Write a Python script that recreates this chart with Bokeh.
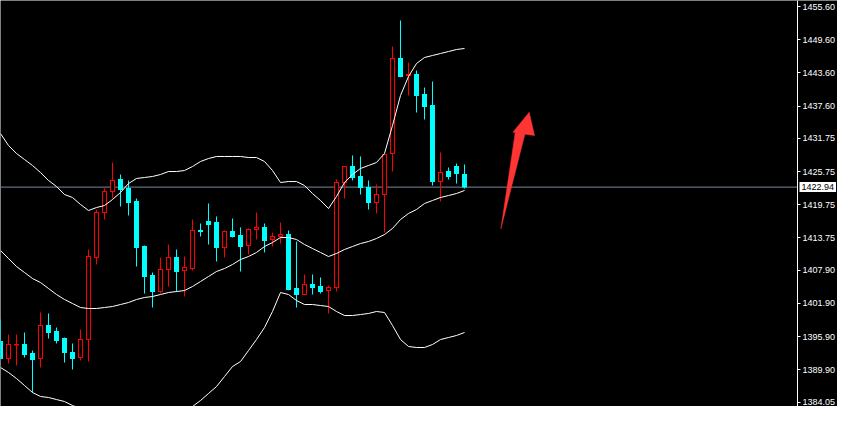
from bokeh.plotting import figure
from bokeh.models import Range1d, FixedTicker, Label, ColumnDataSource, PrintfTickFormatter, LinearAxis
from bokeh.embed import file_html
from bokeh.resources import INLINE

# ---- data ----
opens = [1395.02, 1391.95, 1394.40, 1394.48, 1392.85, 1391.95, 1397.92, 1396.83, 1395.56, 1393.03,
         1392.13, 1395.38, 1410.21, 1418.35, 1422.15, 1424.32, 1422.69, 1420.34, 1412.20, 1406.96,
         1404.06, 1408.04, 1410.21, 1407.86, 1408.22, 1415.09, 1416.72, 1416.54, 1412.02, 1414.91,
         1414.19, 1412.38, 1415.27, 1415.64, 1413.47, 1414.01, 1414.37, 1404.61, 1403.52, 1405.33,
         1404.97, 1404.24, 1404.79, 1423.77, 1426.67, 1424.86, 1422.87, 1420.16, 1421.60, 1429.02,
         1446.20, 1443.12, 1443.30, 1439.69, 1437.70, 1423.95, 1425.76, 1426.67, 1425.22]
highs = [1399.00, 1396.29, 1396.29, 1396.65, 1393.39, 1400.27, 1400.09, 1397.55, 1395.74, 1394.66,
         1397.19, 1411.66, 1418.89, 1422.69, 1427.39, 1425.22, 1424.14, 1420.88, 1412.38, 1407.50,
         1410.21, 1412.56, 1411.66, 1410.39, 1417.08, 1416.36, 1419.98, 1417.63, 1415.09, 1417.26,
         1415.64, 1415.46, 1418.35, 1416.36, 1414.73, 1416.54, 1415.09, 1413.10, 1407.14, 1407.14,
         1406.60, 1405.15, 1424.32, 1426.67, 1428.66, 1428.48, 1424.14, 1423.41, 1429.00, 1448.37,
         1453.07, 1445.47, 1444.03, 1440.95, 1442.04, 1429.20, 1426.49, 1427.21, 1427.03]
lows = [1391.95, 1391.04, 1390.68, 1392.13, 1385.80, 1390.32, 1395.56, 1394.66, 1391.22, 1389.96,
        1391.59, 1391.40, 1408.95, 1417.08, 1420.88, 1419.43, 1417.81, 1408.58, 1403.70, 1401.17,
        1403.70, 1404.97, 1404.06, 1403.16, 1407.86, 1414.01, 1412.56, 1409.49, 1410.21, 1413.83,
        1407.68, 1410.75, 1413.47, 1411.12, 1412.20, 1412.74, 1404.30, 1401.17, 1403.45, 1403.52,
        1403.70, 1400.09, 1404.06, 1420.88, 1424.14, 1421.60, 1418.89, 1418.17, 1414.73, 1425.76,
        1442.80, 1439.51, 1436.43, 1435.17, 1423.23, 1420.34, 1424.32, 1423.59, 1422.69]
closes = [1391.95, 1394.48, 1394.48, 1392.67, 1391.77, 1397.92, 1396.65, 1395.20, 1393.03, 1391.95,
          1395.38, 1410.39, 1418.35, 1422.15, 1424.14, 1422.51, 1420.16, 1412.02, 1406.78, 1404.06,
          1408.04, 1410.21, 1407.68, 1408.40, 1415.09, 1414.91, 1416.18, 1412.02, 1414.91, 1414.01,
          1412.20, 1415.27, 1415.64, 1413.29, 1414.01, 1414.37, 1404.43, 1403.52, 1405.33, 1404.79,
          1404.06, 1404.79, 1423.77, 1426.67, 1424.68, 1422.87, 1420.16, 1421.60, 1428.84, 1446.20,
          1442.94, 1443.30, 1439.51, 1437.52, 1423.95, 1425.58, 1424.86, 1425.40, 1422.94]

upper_band = [1432.63, 1430.46, 1429.02, 1427.93, 1426.85, 1425.58, 1424.14, 1423.05, 1421.60, 1421.06,
              1419.80, 1418.71, 1419.25, 1419.61, 1420.70, 1421.97, 1423.59, 1424.50, 1424.68, 1424.86,
              1425.22, 1425.76, 1425.76, 1425.94, 1426.67, 1427.57, 1428.11, 1428.48, 1428.48, 1428.48,
              1428.48, 1428.29, 1428.29, 1427.57, 1425.94, 1423.77, 1423.95, 1423.95, 1423.23, 1421.78,
              1420.52, 1419.07, 1421.24, 1423.77, 1425.22, 1426.31, 1426.85, 1427.39, 1429.02, 1434.08,
              1439.51, 1442.94, 1445.29, 1446.38, 1446.74, 1447.10, 1447.46, 1447.82, 1448.01]
middle_band = [1411.48, 1410.03, 1408.58, 1407.50, 1406.41, 1405.69, 1404.61, 1403.52, 1402.62, 1401.89,
               1401.17, 1400.99, 1400.99, 1401.17, 1401.35, 1401.71, 1402.07, 1402.62, 1402.98, 1403.16,
               1403.52, 1403.88, 1404.06, 1404.24, 1404.97, 1405.87, 1406.78, 1407.68, 1408.22, 1408.95,
               1409.85, 1410.39, 1411.12, 1412.20, 1412.92, 1413.83, 1413.83, 1413.47, 1412.56, 1411.84,
               1411.12, 1410.39, 1410.94, 1411.66, 1412.20, 1412.74, 1413.10, 1413.65, 1414.37, 1415.46,
               1417.08, 1418.17, 1418.89, 1419.98, 1420.52, 1421.06, 1421.42, 1421.78, 1422.33]
lower_band = [1390.32, 1389.42, 1388.33, 1387.07, 1385.80, 1385.08, 1384.90, 1384.53, 1384.17, 1383.45,
              1382.91, 1383.27, 1383.09, 1382.91, 1382.36, 1381.46, 1380.74, 1381.10, 1381.28, 1381.46,
              1382.00, 1382.55, 1382.55, 1382.55, 1383.27, 1384.35, 1385.62, 1386.88, 1388.69, 1390.50,
              1391.40, 1393.39, 1395.38, 1397.55, 1400.45, 1403.88, 1403.52, 1402.44, 1401.71, 1401.71,
              1401.53, 1401.35, 1400.45, 1399.72, 1399.72, 1399.90, 1400.09, 1400.45, 1400.27, 1397.92,
              1395.38, 1394.12, 1393.94, 1393.94, 1394.48, 1395.38, 1395.74, 1396.11, 1396.65]

tick_values = [1455.60, 1449.60, 1443.60, 1437.60, 1431.75, 1425.75, 1419.75,
               1413.75, 1407.90, 1401.90, 1395.90, 1389.90, 1384.05]
last_price = 1422.94
arrow_x = [62.55, 64.34, 64.05, 66.09, 66.75, 65.55]
arrow_y = [1415.40, 1432.82, 1432.88, 1436.49, 1432.27, 1432.51]

# ---- figure: 8 px per bar ----
W, H = 837, 406
BAR_PX = 8.0
x_start = 0.0
x_end = x_start + W / BAR_PX
y_start, y_end = 1383.27, 1456.685
PX_Y = (y_end - y_start) / H      # one screen pixel in price units
axis_x = 99.625                   # price scale position (in bar units)

p = figure(width=W, height=H, output_backend="svg", toolbar_location=None,
           x_axis_location=None, y_axis_location=None,
           x_range=Range1d(x_start, x_end), y_range=Range1d(y_start, y_end),
           background_fill_color="black", border_fill_color="black",
           min_border_left=0, min_border_top=0, min_border_bottom=0, min_border_right=0)
p.outline_line_color = None
p.grid.visible = False

ax = LinearAxis(fixed_location=axis_x)
ax.ticker = FixedTicker(ticks=tick_values)
ax.formatter = PrintfTickFormatter(format="%.2f")
ax.axis_line_color = "white"
ax.major_tick_line_color = "white"
ax.major_tick_out = 3
ax.major_tick_in = 0
ax.minor_tick_line_color = None
ax.major_label_text_color = "white"
ax.major_label_text_font = "Liberation Sans"
ax.major_label_text_font_size = "9px"
ax.major_label_standoff = 2
p.add_layout(ax, "right")

# current-price line (stops at the price scale)
p.segment(x0=[x_start], y0=[last_price], x1=[axis_x], y1=[last_price],
          line_color="#778899", line_width=1, level="underlay")

idx = list(range(len(opens)))
bull = dict(x=[], top=[], bottom=[], high=[], low=[])
bear = dict(x=[], top=[], bottom=[], high=[], low=[])
hollow = dict(x=[], top=[], bottom=[])
for i, o, h, l, c in zip(idx, opens, highs, lows, closes):
    d = bull if c >= o else bear
    top, bot = max(o, c), min(o, c)
    d["x"].append(i)
    d["top"].append(top + PX_Y / 2)
    d["bottom"].append(bot - PX_Y / 2)
    d["high"].append(h)
    d["low"].append(l)
    if c >= o and (top - bot) > 1.2 * PX_Y:
        hollow["x"].append(i)
        hollow["top"].append(top - PX_Y / 2)
        hollow["bottom"].append(bot + PX_Y / 2)

sb = ColumnDataSource(bull)
sr = ColumnDataSource(bear)
sh = ColumnDataSource(hollow)
p.segment(x0="x", y0="low", x1="x", y1="high", source=sb, line_color="#ff0000", line_width=1)
p.segment(x0="x", y0="low", x1="x", y1="high", source=sr, line_color="#00ffff", line_width=1)
# bodies: 5 px wide solid blocks; bullish bodies are hollowed out with a 3 px black inner block
p.vbar(x="x", top="top", bottom="bottom", width=5 / BAR_PX, source=sb,
       fill_color="#ff0000", line_color=None)
p.vbar(x="x", top="top", bottom="bottom", width=3 / BAR_PX, source=sh,
       fill_color="black", line_color=None)
p.vbar(x="x", top="top", bottom="bottom", width=5 / BAR_PX, source=sr,
       fill_color="#00ffff", line_color=None)

band_x = list(range(len(upper_band)))
for band in (upper_band, middle_band, lower_band):
    p.line(band_x, band, line_color="white", line_width=1)

p.patch(arrow_x, arrow_y, fill_color="#ff3535", line_color="#ff3535", line_width=0.5)

p.add_layout(Label(x=axis_x + 0.25, y=last_price, text=f"{last_price:.2f}",
                   text_color="black", text_font="Liberation Sans", text_font_size="9px",
                   text_baseline="middle", text_align="left", padding=2,
                   background_fill_color="white", background_fill_alpha=1.0))

open("out.html", "w").write(file_html(p, INLINE))
